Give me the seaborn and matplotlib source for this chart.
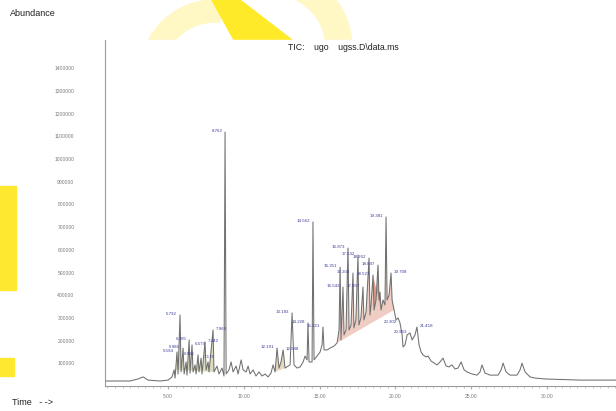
import numpy as np
import pandas as pd
import matplotlib
matplotlib.use("Agg")
import matplotlib.pyplot as plt
import matplotlib.patches as mpatches
from matplotlib.ticker import MultipleLocator, FuncFormatter
import seaborn as sns

# TIC trace (time in min, abundance in thousands)
time_min = [0.84, 2.49, 3.02, 3.35, 3.68, 4.47, 5.00, 5.26, 5.40, 5.46, 5.59, 5.66, 5.79, 5.86,
            5.99, 6.06, 6.19, 6.25, 6.39, 6.45, 6.58, 6.65, 6.78, 6.85, 6.98, 7.04, 7.18, 7.24,
            7.44, 7.51, 7.64, 7.70, 7.97, 8.03, 8.23, 8.36, 8.56, 8.69, 8.76, 8.83, 9.02, 9.16,
            9.29, 9.49, 9.62, 9.82, 9.95, 10.15, 10.28, 10.41, 10.61, 10.80, 11.00, 11.20, 11.40,
            11.60, 11.79, 11.93, 12.06, 12.19, 12.32, 12.45, 12.59, 12.72, 12.92, 13.05, 13.18,
            13.31, 13.51, 13.71, 13.91, 14.04, 14.17, 14.23, 14.30, 14.50, 14.56, 14.63, 14.83,
            15.03, 15.16, 15.22, 15.29, 15.49, 15.69, 15.95, 16.15, 16.28, 16.35, 16.41, 16.54,
            16.61, 16.74, 16.87, 16.94, 17.07, 17.20, 17.26, 17.39, 17.53, 17.59, 17.72, 17.86,
            17.92, 18.06, 18.26, 18.32, 18.39, 18.52, 18.59, 18.72, 18.85, 18.92, 18.98, 19.05,
            19.18, 19.31, 19.38, 19.45, 19.58, 19.71, 19.78, 19.91, 20.04, 20.17, 20.30, 20.44,
            20.50, 20.63, 20.77, 20.96, 21.10, 21.29, 21.42, 21.56, 21.69, 21.82, 22.02, 22.15,
            22.35, 22.55, 22.74, 22.94, 23.14, 23.34, 23.54, 23.73, 23.93, 24.13, 24.33, 24.53,
            24.72, 25.05, 25.38, 25.58, 25.71, 25.91, 26.24, 26.77, 26.97, 27.10, 27.30, 27.56,
            28.02, 28.22, 28.35, 28.55, 28.88, 29.21, 29.87, 32.18, 34.55]
abund_k = [22, 22, 31, 40, 26, 22, 26, 40, 71, 35, 150, 53, 313, 62,
           167, 53, 106, 48, 203, 57, 181, 62, 93, 53, 137, 62, 123, 53,
           194, 71, 106, 62, 247, 62, 88, 53, 79, 44, 1119, 53, 71, 106,
           62, 88, 53, 115, 71, 62, 88, 53, 71, 44, 62, 44, 53,
           40, 57, 93, 62, 167, 79, 106, 159, 79, 88, 93, 322,
           93, 79, 84, 106, 132, 115, 278, 106, 106, 723, 115, 132,
           150, 181, 260, 159, 159, 167, 176, 190, 247, 524, 203, 436,
           225, 247, 608, 247, 269, 498, 256, 291, 577, 269, 300, 436,
           291, 326, 564, 313, 357, 489, 335, 379, 533, 379, 414, 335,
           379, 357, 745, 379, 401, 498, 379, 335, 291, 300, 278, 225,
           172, 181, 225, 234, 203, 225, 260, 181, 150, 137, 128, 132,
           110, 101, 93, 106, 123, 88, 84, 93, 75, 79, 106, 71,
           62, 53, 48, 62, 93, 57, 48, 48, 71, 101, 62, 48,
           48, 71, 101, 62, 40, 35, 31, 26, 26]

# labelled peaks (retention time, abundance in thousands)
peak_time = [5.59, 5.79, 5.99, 6.39, 6.58, 6.98, 7.18, 7.44, 7.97, 8.76, 12.19, 12.59,
             13.18, 14.23, 14.56, 15.22, 16.35, 16.54, 16.87, 17.20, 17.53, 17.86, 18.26,
             18.52, 18.85, 19.38, 19.71, 20.30, 20.96, 21.42]
peak_abund_k = [150, 313, 167, 203, 181, 137, 123, 194, 247, 1119, 167, 159,
                322, 278, 723, 260, 524, 436, 608, 498, 577, 436, 564,
                489, 533, 745, 498, 278, 234, 260]
peak_text = ["5.594", "5.792", "5.986", "6.385", "6.579", "6.981", "7.176", "7.442", "7.969",
             "8.762", "12.191", "12.588", "13.183", "14.228", "14.562", "15.221", "16.351",
             "16.543", "16.873", "17.204", "17.532", "17.857", "18.262", "18.521", "18.847",
             "19.381", "19.708", "20.302", "20.963", "21.418"]
# which side of the peak each label sits on
label_side = ["l", "l", "l", "l", "r", "l", "r", "r", "r", "l", "l", "r",
              "l", "l", "l", "l", "l", "l", "l", "l", "l", "l", "l",
              "l", "l", "l", "r", "l", "l", "r"]

# integrated regions (start, end, colour)
fill_start = [5.40, 12.06, 16.15, 18.52]
fill_end = [8.03, 12.72, 19.91, 19.05]
fill_color = ["#dcdcbc", "#e6d8bc", "#f0cdc2", "#dc9c88"]

x_ticks = [5, 10, 15, 20, 25, 30]
y_ticks = [100000 * i for i in range(1, 15)]

df = pd.DataFrame({"time": time_min, "abundance": np.array(abund_k) * 1000})

sns.set_style("white")
plt.rcParams["font.family"] = ["Liberation Sans Narrow", "Liberation Sans", "DejaVu Sans"]

fig = plt.figure(figsize=(6.16, 4.11), dpi=100)

# background watermark shapes, in pixel coordinates
bg = fig.add_axes([0, 0, 1, 1], zorder=0)
bg.set_xlim(0, 616)
bg.set_ylim(411, 0)
bg.axis("off")
bg.add_patch(mpatches.Wedge((215, 75), 75, 180, 275, width=22, color="#fff7c4"))
bg.add_patch(mpatches.Wedge((272, 48), 80, 275, 360, width=26, color="#fff7c4"))
bg.add_patch(mpatches.Polygon([(212, 0), (240, 0), (292, 40), (234, 40)], color="#ffea2a"))
bg.add_patch(mpatches.Rectangle((0, 186), 16, 104, color="#ffe930"))
bg.add_patch(mpatches.Rectangle((0, 358), 14, 18, color="#ffe930"))
# white plot panel hides the watermark below the title band
bg.add_patch(mpatches.Rectangle((20, 40), 596, 371, color="white"))

ax = fig.add_axes([105 / 616, 1 - 386 / 411, 511 / 616, 346 / 411], zorder=1)
ax.patch.set_alpha(0)

t = np.array(time_min)
a = np.array(abund_k) * 1000
for s, e, c in zip(fill_start, fill_end, fill_color):
    m = (t >= s) & (t <= e)
    ax.fill(t[m], a[m], color=c, lw=0, zorder=1)

sns.lineplot(data=df, x="time", y="abundance", ax=ax, color="#707070", lw=0.75,
             sort=False, estimator=None, zorder=2)

for pt, pa, txt, side in zip(peak_time, peak_abund_k, peak_text, label_side):
    dx = -2 if side == "l" else 2
    ax.annotate(txt, (pt, pa * 1000), xytext=(dx, 1), textcoords="offset points",
                ha="right" if side == "l" else "left", va="center",
                fontsize=3.2, color="#3c3c9c", zorder=3)

ax.set_xlim(0.84, 34.55)
ax.set_ylim(0, 1525000)
ax.set_xticks(x_ticks)
ax.xaxis.set_major_formatter(FuncFormatter(lambda v, p: "%.2f" % v))
ax.xaxis.set_minor_locator(MultipleLocator(0.5))
ax.set_yticks(y_ticks)
ax.yaxis.set_major_formatter(FuncFormatter(lambda v, p: "%d" % v))
ax.tick_params(axis="y", length=0, pad=22, labelsize=3.6, labelcolor="#7a7a7a")
ax.tick_params(axis="x", which="major", length=2, pad=4, labelsize=3.6,
               labelcolor="#7a7a7a", color="#b0b0b0", bottom=True)
ax.tick_params(axis="x", which="minor", length=1.2, color="#c0c0c0", bottom=True)
ax.set_xlabel("")
ax.set_ylabel("")
for side in ["top", "right"]:
    ax.spines[side].set_visible(False)
for side in ["left", "bottom"]:
    ax.spines[side].set_color("#9a9a9a")
    ax.spines[side].set_linewidth(0.8)

fig.text(10 / 616, 1 - 14 / 411, "Abundance", fontsize=6.5, ha="left", va="center", color="#222222")
fig.text(343 / 616, 1 - 48 / 411, "TIC:    ugo    ugss.D\\data.ms", fontsize=6.3,
         ha="center", va="center", color="#222222")
fig.text(12 / 616, 1 - 402 / 411, "Time   - ->", fontsize=6.5, ha="left", va="center", color="#222222")

fig.savefig("out.png", dpi=100)
